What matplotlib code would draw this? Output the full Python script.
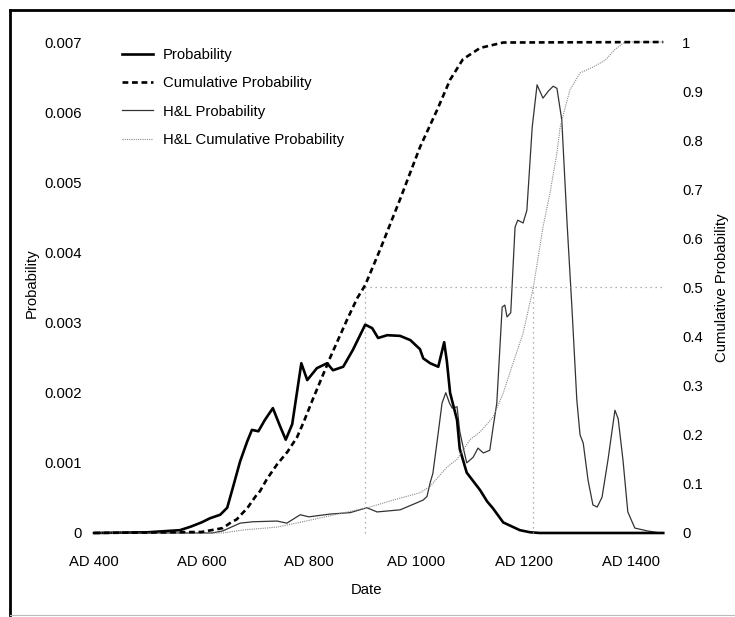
import matplotlib
matplotlib.use("Agg")
import matplotlib.pyplot as plt
from matplotlib.lines import Line2D

plt.rcParams['font.family'] = ['Liberation Sans', 'DejaVu Sans']
plt.rcParams['font.size'] = 10.7

# --- data ---
prob_years = [400, 500, 560, 580, 600, 616, 635, 648, 659, 672, 685, 694, 706, 718, 733,
              746, 757, 769, 786, 797, 815, 834, 845, 864, 882, 905, 918, 929, 946, 970,
              989, 1007, 1013, 1026, 1041, 1052, 1057, 1063, 1076, 1081, 1094, 1119, 1132,
              1143, 1162, 1193, 1212, 1230, 1460]
prob_vals = [0, 0.00001, 0.00004, 0.00009, 0.00015, 0.00021, 0.00026, 0.00036, 0.00066,
             0.00102, 0.00130, 0.00147, 0.00145, 0.00161, 0.00178, 0.00153, 0.00133,
             0.00155, 0.00242, 0.00218, 0.00235, 0.00242, 0.00232, 0.00237, 0.00261,
             0.00297, 0.00292, 0.00278, 0.00282, 0.00281, 0.00275, 0.00262, 0.00249,
             0.00242, 0.00237, 0.00272, 0.00245, 0.00200, 0.00161, 0.00120, 0.00086,
             0.00061, 0.00045, 0.00035, 0.00015, 0.00004, 0.00001, 0, 0]

cum_years = [400, 600, 640, 653, 666, 677, 685, 703, 709, 722, 741, 760, 778, 790, 808,
             840, 871, 890, 905, 933, 970, 1007, 1039, 1063, 1087, 1119, 1162, 1460]
cum_vals = [0, 0.002, 0.010, 0.020, 0.028, 0.041, 0.050, 0.078, 0.085, 0.110, 0.140,
            0.165, 0.195, 0.225, 0.274, 0.358, 0.434, 0.478, 0.505, 0.578, 0.680, 0.786,
            0.862, 0.923, 0.965, 0.988, 0.999, 1.0]

hl_years = [400, 620, 640, 672, 696, 741, 759, 784, 800, 840, 877, 908, 927, 970, 1001,
            1013, 1020, 1026, 1031, 1041, 1048, 1055, 1062, 1067, 1076, 1081, 1088, 1094,
            1106, 1115, 1125, 1137, 1143, 1150, 1160, 1165, 1169, 1176, 1184, 1189, 1199,
            1206, 1216, 1225, 1236, 1246, 1255, 1262, 1271, 1281, 1290, 1299, 1305, 1311,
            1320, 1329, 1337, 1346, 1357, 1370, 1376, 1385, 1394, 1407, 1430, 1454, 1460]
hl_vals = [0, 0, 0.00003, 0.00014, 0.00016, 0.00017, 0.00014, 0.00026, 0.00023, 0.00027,
           0.00029, 0.00036, 0.00030, 0.00033, 0.00043, 0.00047, 0.00052, 0.00072,
           0.00085, 0.00143, 0.00185, 0.00200, 0.00185, 0.00178, 0.00180, 0.00145,
           0.00120, 0.00100, 0.00108, 0.00121, 0.00114, 0.00118, 0.00150, 0.00185,
           0.00322, 0.00325, 0.00308, 0.00314, 0.00436, 0.00446, 0.00442, 0.00460,
           0.00579, 0.00639, 0.00620, 0.00630, 0.00637, 0.00634, 0.00589, 0.00440,
           0.00320, 0.00190, 0.00140, 0.00128, 0.00075, 0.00040, 0.00037, 0.00051,
           0.00104, 0.00175, 0.00163, 0.00104, 0.00030, 0.00007, 0.00003, 0, 0]

hl_cum_years = [400, 640, 677, 741, 802, 864, 908, 957, 1007, 1026, 1057, 1076, 1100, 1119,
                1143, 1162, 1180, 1199, 1218, 1236, 1249, 1262, 1268, 1286, 1305, 1329,
                1352, 1370, 1389, 1460]
hl_cum_vals = [0, 0, 0.006, 0.012, 0.026, 0.041, 0.051, 0.067, 0.082, 0.095, 0.134, 0.150,
               0.190, 0.206, 0.236, 0.285, 0.345, 0.407, 0.50, 0.623, 0.692, 0.774, 0.827,
               0.902, 0.937, 0.949, 0.963, 0.985, 1.0, 1.0]

median_prob = 905
median_hl = 1218
end_year = 1460

x_ticks = [400, 600, 800, 1000, 1200, 1400]
x_labels = ['AD 400', 'AD 600', 'AD 800', 'AD 1000', 'AD 1200', 'AD 1400']
y_ticks = [0, 0.001, 0.002, 0.003, 0.004, 0.005, 0.006, 0.007]
y_labels = ['0', '0.001', '0.002', '0.003', '0.004', '0.005', '0.006', '0.007']
y2_ticks = [0, 0.1, 0.2, 0.3, 0.4, 0.5, 0.6, 0.7, 0.8, 0.9, 1.0]
y2_labels = ['0', '0.1', '0.2', '0.3', '0.4', '0.5', '0.6', '0.7', '0.8', '0.9', '1']

W, H = 735, 617
fig = plt.figure(figsize=(W / 100, H / 100), dpi=100)

# axes box in pixels: x 83..674, y 28..547 (from top)
ax = fig.add_axes([83.3 / W, (H - 547) / H, (674 - 83.3) / W, (547 - 28) / H])
ax2 = ax.twinx()

ax.set_xlim(380, 1480)
ax.set_ylim(-0.0002, 0.0072)
ax2.set_ylim(-0.0002 / 0.007, 0.0072 / 0.007)

ref_kw = dict(color='#999999', lw=0.9, ls=(0, (1, 3)))
ax2.plot([median_prob, median_prob], [0, 0.5], **ref_kw)
ax2.plot([median_hl, median_hl], [0, 0.5], **ref_kw)
ax2.plot([median_prob, end_year], [0.5, 0.5], **ref_kw)

thick = 1.9
dash = (0, (2.2, 1.4))
ax.plot(hl_years, hl_vals, color='#333333', lw=0.9, label='H&L Probability')
ax.plot(prob_years, prob_vals, color='black', lw=thick, label='Probability')
ax2.plot(hl_cum_years, hl_cum_vals, color='#888888', lw=0.8, ls=(0, (1, 1)),
         label='H&L Cumulative Probability')
ax2.plot(cum_years, cum_vals, color='black', lw=thick, ls=dash,
         label='Cumulative Probability')

for a in (ax, ax2):
    for s in a.spines.values():
        s.set_visible(False)

ax.set_xticks(x_ticks)
ax.set_xticklabels(x_labels)
ax.set_yticks(y_ticks)
ax.set_yticklabels(y_labels)
ax2.set_yticks(y2_ticks)
ax2.set_yticklabels(y2_labels)
ax.tick_params(axis='x', length=0, pad=6)
ax.tick_params(axis='y', length=0, pad=1)
ax2.tick_params(axis='y', length=0, pad=6)

fig.text(367 / W, 1 - 590 / H, 'Date', ha='center', va='center')
fig.text(32 / W, 1 - 283 / H, 'Probability', ha='center', va='center', rotation=90)
fig.text(722 / W, 1 - 288 / H, 'Cumulative Probability', ha='center', va='center',
         rotation=90)

handles = [
    Line2D([], [], color='black', lw=thick),
    Line2D([], [], color='black', lw=thick, ls=dash),
    Line2D([], [], color='#333333', lw=0.9),
    Line2D([], [], color='#888888', lw=0.8, ls=(0, (1, 1))),
]
labels = ['Probability', 'Cumulative Probability', 'H&L Probability',
          'H&L Cumulative Probability']
fig.legend(handles, labels, loc='upper left', bbox_to_anchor=(122 / W, 1 - 48 / H),
           frameon=False, borderpad=0, borderaxespad=0, handlelength=2.1,
           handletextpad=0.67, labelspacing=0.96)

# page frame
fig.add_artist(Line2D([10 / W, 1.01], [1 - 10 / H, 1 - 10 / H], color='black', lw=2,
                      transform=fig.transFigure))
fig.add_artist(Line2D([10 / W, 10 / W], [1 - 10 / H, 1 - 615 / H], color='black', lw=2,
                      transform=fig.transFigure))
fig.add_artist(Line2D([10 / W, 1.01], [1 - 615 / H, 1 - 615 / H], color='#bbbbbb',
                      lw=0.8, transform=fig.transFigure))

fig.savefig('out.png', dpi=100)
